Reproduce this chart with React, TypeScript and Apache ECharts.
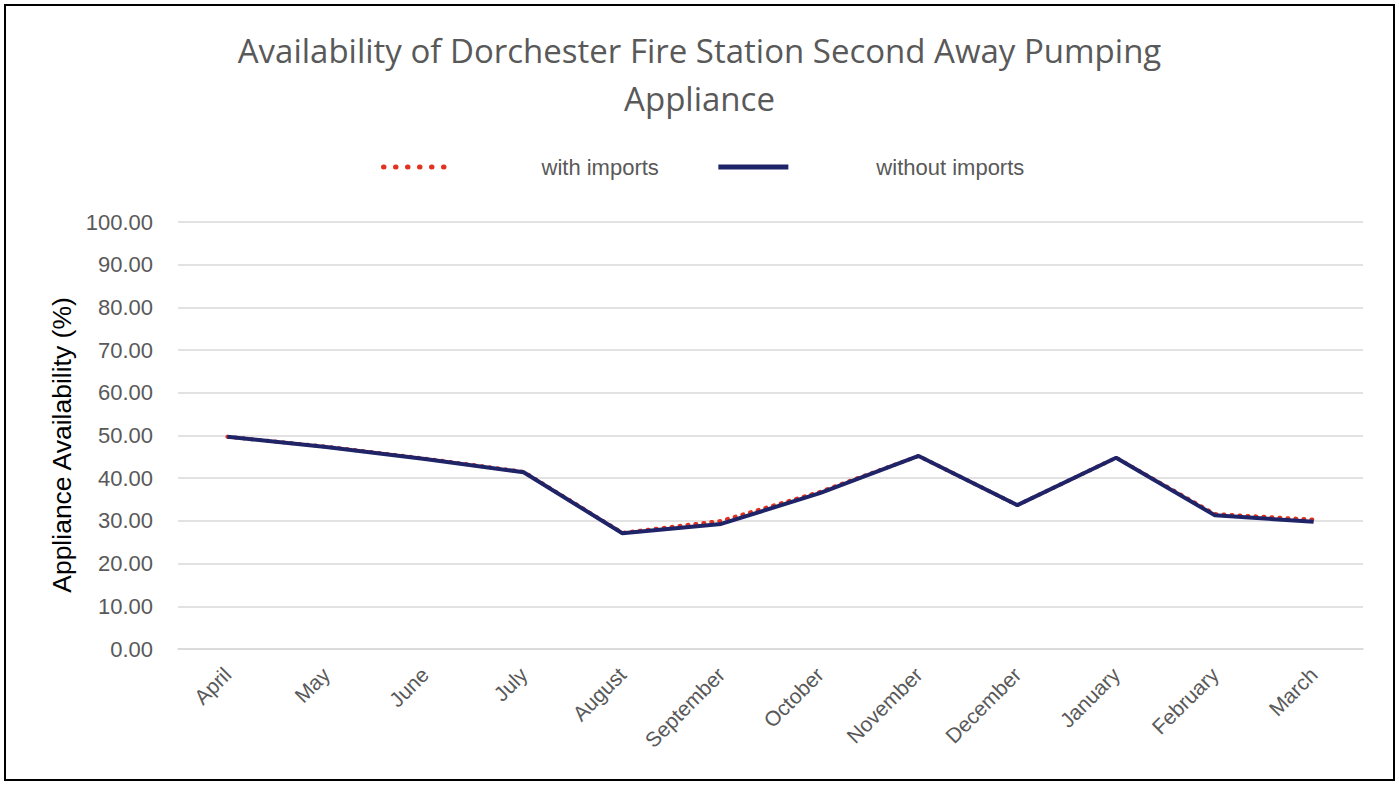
import React, { useEffect, useRef } from "react";
import * as echarts from "echarts";

const months = ["April", "May", "June", "July", "August", "September", "October", "November", "December", "January", "February", "March"];
const withImports = [49.7, 47.4, 44.6, 41.5, 27.2, 30.0, 36.8, 45.2, 33.7, 44.8, 31.6, 30.3];
const withoutImports = [49.7, 47.3, 44.5, 41.4, 27.1, 29.3, 36.5, 45.2, 33.7, 44.8, 31.3, 29.8];
const yTicks = { min: 0, max: 100, interval: 10 };

export default function App() {
  const ref = useRef<HTMLDivElement>(null);
  useEffect(() => {
    document.body.style.margin = "0";
    const chart = echarts.init(ref.current!, null, { renderer: "svg" });
    chart.setOption({
      animation: false,
      backgroundColor: "#ffffff",
      textStyle: { fontFamily: "Open Sans" },
      title: {
        text: "Availability of Dorchester Fire Station Second Away Pumping\nAppliance",
        left: "center",
        top: 21,
        textStyle: { fontSize: 33, fontWeight: "normal", color: "#595959", lineHeight: 48, fontFamily: "Open Sans" },
      },
      legend: {
        top: 151,
        left: 376,
        itemGap: 57,
        itemWidth: 70,
        itemHeight: 14,
        textStyle: { fontSize: 22, color: "#595959", padding: [0, 0, 0, 83], fontFamily: "Liberation Sans" },
        data: [
          { name: "with imports", itemStyle: { opacity: 0 }, lineStyle: { width: 5, type: [0.5, 11.5], cap: "round", color: "#E0321E" } },
          { name: "without imports", itemStyle: { opacity: 0 }, lineStyle: { width: 5, color: "#1F2468" } },
        ],
      },
      grid: { left: 178, right: 36, top: 222, bottom: 136 },
      xAxis: {
        type: "category",
        data: months,
        boundaryGap: true,
        axisLine: { show: true, lineStyle: { color: "#D9D9D9", width: 1.5 } },
        axisTick: { show: false },
        axisLabel: { rotate: 45, fontSize: 21, color: "#595959", margin: 22, fontFamily: "Liberation Sans", interval: 0 },
      },
      yAxis: {
        type: "value",
        min: yTicks.min,
        max: yTicks.max,
        interval: yTicks.interval,
        axisLine: { show: false },
        axisTick: { show: false },
        splitLine: { lineStyle: { color: "#D9D9D9", width: 1.5 } },
        axisLabel: {
          fontSize: 22,
          color: "#595959",
          margin: 25,
          fontFamily: "Liberation Sans",
          formatter: (v: number) => v.toFixed(2),
        },
      },
      series: [
        {
          name: "with imports",
          type: "line",
          data: withImports,
          symbol: "none",
          itemStyle: { color: "#E0321E" },
          lineStyle: { color: "#E0321E", width: 4, type: [1, 7], cap: "round" },
          z: 2,
        },
        {
          name: "without imports",
          type: "line",
          data: withoutImports,
          symbol: "none",
          itemStyle: { color: "#1F2468" },
          lineStyle: { color: "#1F2468", width: 4 },
          z: 3,
        },
      ],
      graphic: [
        {
          type: "rect",
          shape: { x: 5, y: 5, width: 1389, height: 775 },
          style: { fill: "none", stroke: "#000000", lineWidth: 2 },
          silent: true,
        },
        {
          type: "text",
          x: 62,
          y: 445,
          rotation: Math.PI / 2,
          style: {
            text: "Appliance Availability (%)",
            fontSize: 26.5,
            fill: "#000000",
            fontFamily: "Liberation Sans",
            align: "center",
            verticalAlign: "middle",
          },
          silent: true,
        },
      ],
    });
    return () => chart.dispose();
  }, []);
  return <div ref={ref} style={{ width: 1399, height: 785 }} />;
}
